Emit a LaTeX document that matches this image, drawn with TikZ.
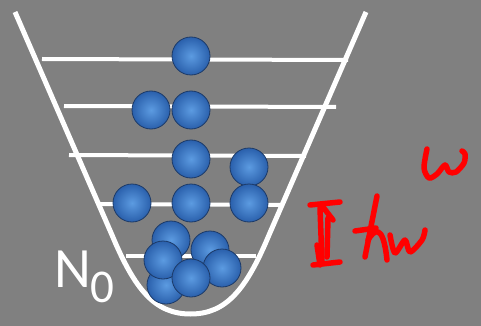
\documentclass[tikz,border=0pt]{standalone}
\usepackage{fontspec}
\setsansfont{Carlito}

\definecolor{slide}{RGB}{128,128,128}
\definecolor{ballin}{RGB}{92,155,225}
\definecolor{ballout}{RGB}{42,96,172}
\definecolor{ballrim}{RGB}{28,58,104}

\begin{document}
\begin{tikzpicture}[x=1pt,y=-1pt,
    well/.style={white, line width=5pt, line join=round},
    level/.style={white, line width=4pt},
    boson/.style={circle, minimum size=38pt, inner sep=0pt, draw=ballrim,
        line width=0.8pt, inner color=ballin, outer color=ballout},
    pen/.style={red, line width=5.5pt, line cap=round, line join=round}]

    % slide background
    \fill[slide] (0,0) rectangle (481,326);

    % the trap
    \draw[well] (15,12) -- (112,235) .. controls (135,290) and (155,314) .. (190.5,314)
        .. controls (226,314) and (246,290) .. (269,235) -- (366,12);

    % energy levels
    \draw[level] (42,59) -- (348,60);
    \draw[level] (64,106) -- (336,107);
    \draw[level] (69,155) -- (306,156);
    \draw[level] (100,204) -- (282,205);
    \draw[level] (126,256) -- (256,256);

    % particles, back to front
    \foreach \name/\x/\y in {a/191/56, b1/151/110, b2/191/110,
            c1/191/159, c2/249/167, d1/132/203, d2/191/203, d3/249/203,
            g6/166/285, g1/171/240, g2/210/250, g3/163/260, g4/222/268, g5/191/278}
        \node[boson] (\name) at (\x,\y) {};

    % ground state population
    \node[white, font=\sffamily\fontsize{57}{57}\selectfont, anchor=base west, inner sep=0pt]
        (nzero) at (54,287) {N\raisebox{-15pt}{\fontsize{47}{47}\selectfont 0}};

    % level spacing, hand written
    \draw[pen] (310,205) -- (340,202);
    \draw[pen] (313,265) -- (340,262);
    \draw[pen] (320,208) -- (322,263);
    \draw[pen] (323,207) -- (333,220);
    \draw[pen] (328,218) -- (327,257);
    \draw[pen] (317,245) -- (320,265);
    % hbar omega
    \draw[pen] (377,196) -- (365,257);
    \draw[pen] (355,231) -- (376,228);
    \draw[pen] (368,240) .. controls (374,230) and (383,222) .. (387,260);
    \draw[pen] plot[smooth] coordinates {(390,235) (395,253) (405,240) (410,252) (422,240) (425,230)};
    % omega
    \draw[pen] plot[smooth] coordinates {(427,149) (424,168) (429,178) (437,174)
        (445,165) (449,172) (456,172) (464,163) (465,154) (462,151)};
\end{tikzpicture}
\end{document}
